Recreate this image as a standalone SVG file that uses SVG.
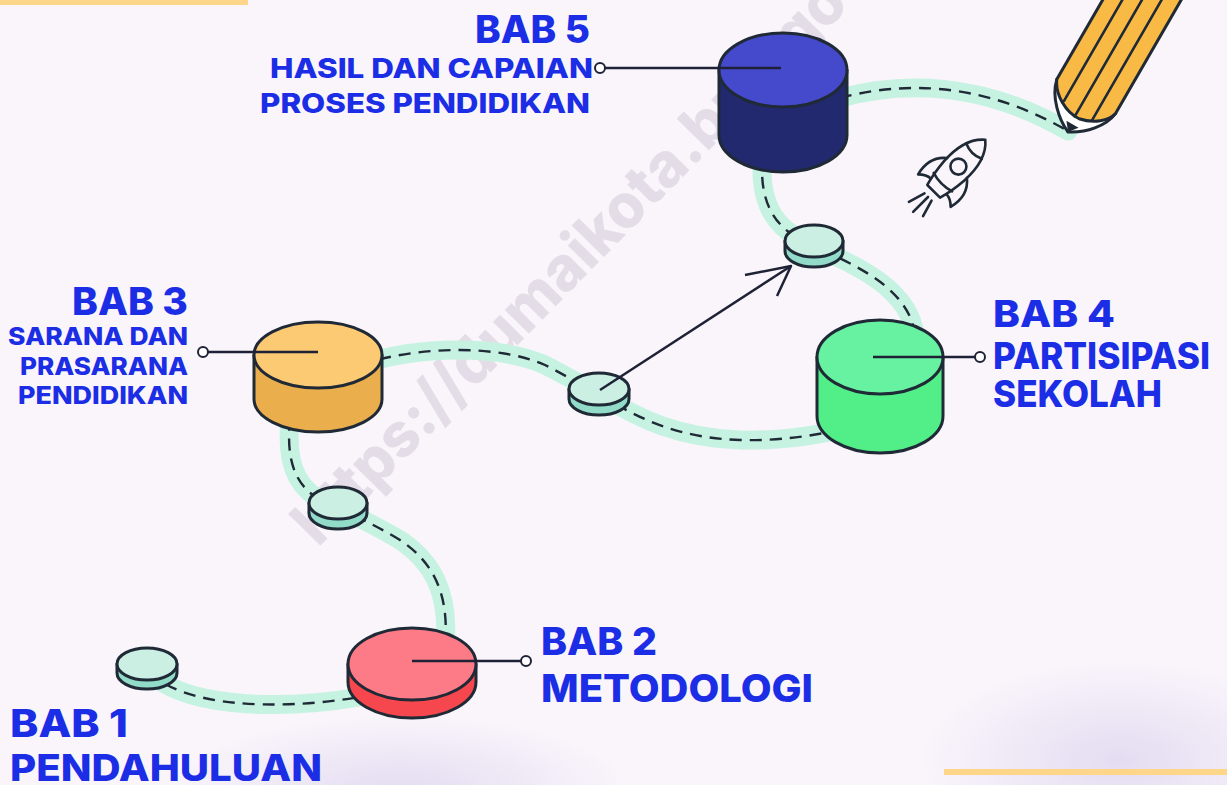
<svg xmlns="http://www.w3.org/2000/svg" width="1227" height="785" viewBox="0 0 1227 785">
  <defs>
    <style>
      .lbl { font-family: Inter, "Open Sans", "Liberation Sans", sans-serif; font-weight: 800; fill: #1c2de6; }
      .band { fill: none; stroke: #c6f2e2; stroke-width: 19; stroke-linecap: round; }
      .dash { fill: none; stroke: #1f2a36; stroke-width: 2.4; stroke-dasharray: 12 8; }
      .edge { stroke: #1f2a36; stroke-width: 3; stroke-linejoin: round; }
      .lead { fill: none; stroke: #1f2236; stroke-width: 2.5; }
      .pin { fill: #ffffff; stroke: #1f2236; stroke-width: 2; }
      .discTop { fill: #ccefe4; }
      .discSide { fill: #93dbc9; }
      .ink { fill: none; stroke: #1f2a36; stroke-width: 2.6; stroke-linecap: round; stroke-linejoin: round; }
    </style>
    <radialGradient id="haze" cx="0.5" cy="0.5" r="0.5">
      <stop offset="0" stop-color="#e2d9f0" stop-opacity="0.9"/>
      <stop offset="1" stop-color="#e2d9f0" stop-opacity="0"/>
    </radialGradient>
  </defs>

  <!-- background -->
  <rect x="0" y="0" width="1227" height="785" fill="#f9f5fb"/>
  <ellipse cx="400" cy="790" rx="230" ry="75" fill="url(#haze)"/>
  <ellipse cx="1120" cy="760" rx="200" ry="100" fill="url(#haze)"/>

  <!-- accent bars -->
  <rect x="0" y="0" width="248" height="5" fill="#fdd68a"/>
  <rect x="944" y="769" width="283" height="6" fill="#fdd68a"/>

  <!-- watermark -->
  <text x="318" y="548" transform="rotate(-45.5 318 548)" font-family="Inter, 'Liberation Sans', sans-serif" font-weight="800" font-size="62" fill="#cfc5d3" fill-opacity="0.5" textLength="760" lengthAdjust="spacingAndGlyphs">https://dumaikota.bps.go</text>

  <!-- path connectors -->
  <g id="connectors">
    <path class="band" d="M150,672 C180,705 270,712 360,697"/>
    <path class="band" d="M445,645 C450,590 430,560 400,540 C380,528 360,518 338,508"/>
    <path class="band" d="M338,508 C300,495 285,470 290,420"/>
    <path class="band" d="M360,365 C420,345 500,345 545,365 C565,375 580,385 599,392"/>
    <path class="band" d="M599,394 C640,420 680,438 740,440 C780,441 810,436 840,430"/>
    <path class="band" d="M915,335 C910,295 870,270 814,247"/>
    <path class="band" d="M814,245 C785,235 762,215 762,170"/>
    <path class="band" d="M840,98 C900,82 980,80 1068,131"/>

    <path class="dash" d="M150,672 C180,705 270,712 360,697"/>
    <path class="dash" d="M445,645 C450,590 430,560 400,540 C380,528 360,518 338,508"/>
    <path class="dash" d="M338,508 C300,495 285,470 290,420"/>
    <path class="dash" d="M360,365 C420,345 500,345 545,365 C565,375 580,385 599,392"/>
    <path class="dash" d="M599,394 C640,420 680,438 740,440 C780,441 810,436 840,430"/>
    <path class="dash" d="M915,335 C910,295 870,270 814,247"/>
    <path class="dash" d="M814,245 C785,235 762,215 762,170"/>
    <path class="dash" d="M840,98 C900,82 980,80 1068,131"/>
  </g>

  <!-- stepping discs -->
  <g id="disc-a">
    <path class="discSide edge" d="M117,664 L117,673 A30 16 0 0 0 177,673 L177,664 Z"/>
    <ellipse class="discTop edge" cx="147" cy="664" rx="30" ry="16"/>
  </g>
  <g id="disc-b">
    <path class="discSide edge" d="M309,503 L309,513 A29 16 0 0 0 367,513 L367,503 Z"/>
    <ellipse class="discTop edge" cx="338" cy="503" rx="29" ry="16"/>
  </g>
  <g id="disc-c">
    <path class="discSide edge" d="M569,389 L569,399 A30 16 0 0 0 629,399 L629,389 Z"/>
    <ellipse class="discTop edge" cx="599" cy="389" rx="30" ry="16"/>
  </g>
  <g id="disc-d">
    <path class="discSide edge" d="M785,241 L785,251 A29 16 0 0 0 843,251 L843,241 Z"/>
    <ellipse class="discTop edge" cx="814" cy="241" rx="29" ry="16"/>
  </g>

  <!-- shortcut arrow -->
  <g id="shortcut-arrow">
    <line class="lead" x1="600" y1="390" x2="791" y2="266"/>
    <polyline class="lead" points="745,275 791,266 777,296" stroke-linejoin="round"/>
  </g>

  <!-- BAB 1 -->
  <g id="bab1">
    <text class="lbl" x="10" y="737" font-size="38" textLength="118" lengthAdjust="spacingAndGlyphs">BAB 1</text>
    <text class="lbl" x="10" y="781" font-size="37" textLength="312" lengthAdjust="spacingAndGlyphs">PENDAHULUAN</text>
  </g>

  <!-- BAB 2 -->
  <g id="bab2">
    <path class="edge" fill="#f5474d" d="M348,664 L348,682 A64 36 0 0 0 476,682 L476,664 Z"/>
    <ellipse class="edge" fill="#fc7b86" cx="412" cy="664" rx="64" ry="36"/>
    <line class="lead" x1="412" y1="661" x2="521" y2="661"/>
    <circle class="pin" cx="526" cy="661" r="5"/>
    <text class="lbl" x="541" y="655" font-size="38" textLength="116" lengthAdjust="spacingAndGlyphs">BAB 2</text>
    <text class="lbl" x="541" y="702" font-size="38" textLength="272" lengthAdjust="spacingAndGlyphs">METODOLOGI</text>
  </g>

  <!-- BAB 3 -->
  <g id="bab3">
    <path class="edge" fill="#eaae4c" d="M254,355 L254,399 A64 33 0 0 0 382,399 L382,355 Z"/>
    <ellipse class="edge" fill="#fdca74" cx="318" cy="355" rx="64" ry="33"/>
    <line class="lead" x1="208" y1="352" x2="318" y2="352"/>
    <circle class="pin" cx="203" cy="352" r="5"/>
    <text class="lbl" x="72" y="315" font-size="38" textLength="116" lengthAdjust="spacingAndGlyphs">BAB 3</text>
    <text class="lbl" x="8" y="345" font-size="24" textLength="180" lengthAdjust="spacingAndGlyphs">SARANA DAN</text>
    <text class="lbl" x="20" y="375" font-size="24" textLength="168" lengthAdjust="spacingAndGlyphs">PRASARANA</text>
    <text class="lbl" x="18" y="404" font-size="24" textLength="170" lengthAdjust="spacingAndGlyphs">PENDIDIKAN</text>
  </g>

  <!-- BAB 4 -->
  <g id="bab4">
    <path class="edge" fill="#52ee88" d="M817,357 L817,416 A63 37 0 0 0 943,416 L943,357 Z"/>
    <ellipse class="edge" fill="#66f2a0" cx="880" cy="357" rx="63" ry="37"/>
    <line class="lead" x1="873" y1="357" x2="975" y2="357"/>
    <circle class="pin" cx="980" cy="357" r="5"/>
    <text class="lbl" x="993" y="327" font-size="37" textLength="122" lengthAdjust="spacingAndGlyphs">BAB 4</text>
    <text class="lbl" x="993" y="369" font-size="37" textLength="217" lengthAdjust="spacingAndGlyphs">PARTISIPASI</text>
    <text class="lbl" x="993" y="407" font-size="37" textLength="169" lengthAdjust="spacingAndGlyphs">SEKOLAH</text>
  </g>

  <!-- BAB 5 -->
  <g id="bab5">
    <path class="edge" fill="#22296e" d="M719,70 L719,135 A64 37 0 0 0 847,135 L847,70 Z"/>
    <ellipse class="edge" fill="#4549cc" cx="783" cy="70" rx="64" ry="37"/>
    <line class="lead" x1="605" y1="68" x2="781" y2="68"/>
    <circle class="pin" cx="600" cy="68" r="5"/>
    <text class="lbl" x="475" y="43" font-size="38" textLength="115" lengthAdjust="spacingAndGlyphs">BAB 5</text>
    <text class="lbl" x="270" y="78" font-size="27" textLength="323" lengthAdjust="spacingAndGlyphs">HASIL DAN CAPAIAN</text>
    <text class="lbl" x="260" y="113" font-size="27" textLength="330" lengthAdjust="spacingAndGlyphs">PROSES PENDIDIKAN</text>
  </g>

  <!-- pencil -->
  <g id="pencil" transform="translate(1068,132) rotate(-60)">
    <path fill="#ffffff" class="edge" d="M40,-36 C22,-32 6,-14 0,0 C8,16 24,30 40,32 Z"/>
    <path fill="#f8b945" d="M260,-36 L40,-36 C26,-30 16,-12 17,3 C20,18 30,30 40,32 L260,32 Z"/>
    <path fill="none" class="edge" d="M260,-36 L40,-36 C26,-30 16,-12 17,3 C20,18 30,30 40,32 L260,32"/>
    <path fill="#1f2a36" d="M0,0 L9,-7 L9,7 Z"/>
    <g class="ink">
      <line x1="25" y1="-19" x2="260" y2="-19"/>
      <line x1="17" y1="-2" x2="260" y2="-2"/>
      <line x1="22" y1="15" x2="260" y2="15"/>
    </g>
  </g>

  <!-- rocket -->
  <g id="rocket" transform="translate(957,168) rotate(45)" class="ink">
    <path d="M0,-40 C12,-30 15,-12 14,4 C13,16 11,26 9,33 L-9,33 C-11,26 -13,16 -14,4 C-15,-12 -12,-30 0,-40 Z"/>
    <path d="M-11,-24 Q0,-19 11,-24"/>
    <circle cx="0" cy="-2" r="8"/>
    <path d="M-13,20 Q0,24 13,20"/>
    <path d="M-14,0 C-24,8 -26,20 -23,32 C-19,28 -15,26 -11,26"/>
    <path d="M14,0 C24,8 26,20 23,32 C19,28 15,26 11,26"/>
    <line x1="-5" y1="41" x2="-10" y2="58"/>
    <line x1="0" y1="41" x2="0" y2="62"/>
    <line x1="5" y1="41" x2="10" y2="58"/>
  </g>
</svg>
